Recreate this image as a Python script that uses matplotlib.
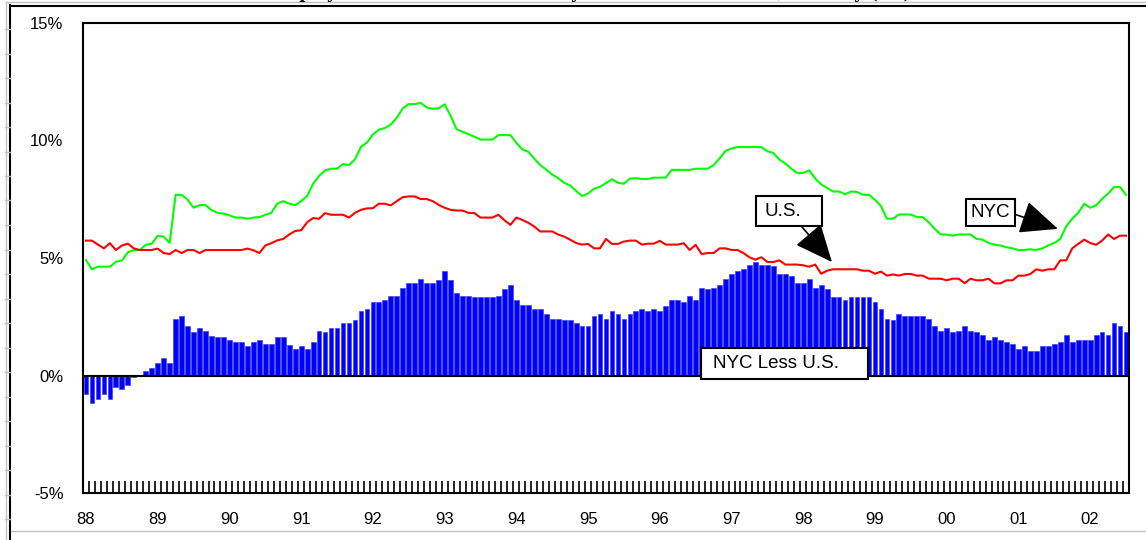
import numpy as np
import matplotlib.pyplot as plt
from matplotlib.patches import Rectangle
from matplotlib.lines import Line2D

plt.rcParams['font.family'] = ['Liberation Sans', 'DejaVu Sans']

# monthly, Jan 1988 - Jul 2002 (percent)
nyc = [4.91, 4.52, 4.63, 4.63, 4.63, 4.84, 4.89, 5.24, 5.34, 5.34, 5.56, 5.61,
       5.94, 5.91, 5.64, 7.69, 7.69, 7.48, 7.14, 7.25, 7.25, 7.04, 6.92, 6.89,
       6.82, 6.72, 6.72, 6.67, 6.72, 6.74, 6.84, 6.92, 7.31, 7.42, 7.31, 7.25,
       7.42, 7.64, 8.16, 8.49, 8.73, 8.80, 8.80, 9.00, 8.95, 9.20, 9.73, 9.91,
       10.26, 10.46, 10.53, 10.68, 10.97, 11.37, 11.55, 11.55, 11.60, 11.41, 11.35, 11.37,
       11.54, 11.05, 10.48, 10.37, 10.27, 10.16, 10.04, 10.04, 10.04, 10.23, 10.23, 10.23,
       9.90, 9.62, 9.52, 9.23, 8.95, 8.76, 8.55, 8.40, 8.20, 8.09, 7.85, 7.64,
       7.74, 7.95, 8.03, 8.19, 8.35, 8.20, 8.16, 8.38, 8.40, 8.36, 8.36, 8.42,
       8.42, 8.42, 8.75, 8.75, 8.75, 8.75, 8.80, 8.80, 8.80, 8.95, 9.23, 9.56,
       9.66, 9.72, 9.72, 9.72, 9.72, 9.72, 9.54, 9.47, 9.19, 9.02, 8.80, 8.62,
       8.62, 8.73, 8.38, 8.13, 7.98, 7.83, 7.83, 7.71, 7.83, 7.81, 7.69, 7.69,
       7.48, 7.21, 6.67, 6.67, 6.85, 6.85, 6.85, 6.74, 6.74, 6.52, 6.24, 6.00,
       6.00, 5.95, 6.00, 6.00, 6.00, 5.81, 5.78, 5.64, 5.57, 5.53, 5.46, 5.41,
       5.34, 5.34, 5.37, 5.34, 5.41, 5.54, 5.64, 5.81, 6.35, 6.67, 6.92, 7.31,
       7.14, 7.24, 7.52, 7.74, 8.02, 8.02, 7.69]

us = [5.74, 5.74, 5.57, 5.41, 5.63, 5.34, 5.53, 5.61, 5.41, 5.34, 5.34, 5.34,
      5.40, 5.21, 5.17, 5.34, 5.21, 5.34, 5.34, 5.21, 5.34, 5.34, 5.34, 5.34,
      5.34, 5.34, 5.34, 5.40, 5.33, 5.21, 5.53, 5.63, 5.75, 5.81, 6.00, 6.15,
      6.18, 6.52, 6.70, 6.67, 6.91, 6.84, 6.84, 6.84, 6.72, 6.92, 7.05, 7.11,
      7.12, 7.31, 7.31, 7.24, 7.42, 7.59, 7.62, 7.62, 7.51, 7.51, 7.42, 7.26,
      7.14, 7.05, 7.02, 7.02, 6.92, 6.91, 6.72, 6.72, 6.72, 6.84, 6.61, 6.41,
      6.72, 6.62, 6.50, 6.34, 6.13, 6.13, 6.13, 6.00, 5.91, 5.78, 5.64, 5.57,
      5.60, 5.41, 5.41, 5.81, 5.60, 5.60, 5.70, 5.74, 5.74, 5.57, 5.61, 5.61,
      5.73, 5.57, 5.57, 5.57, 5.63, 5.34, 5.56, 5.17, 5.21, 5.21, 5.41, 5.41,
      5.34, 5.34, 5.21, 5.03, 4.93, 5.03, 4.83, 4.83, 4.90, 4.72, 4.72, 4.72,
      4.69, 4.63, 4.72, 4.33, 4.46, 4.52, 4.52, 4.52, 4.52, 4.52, 4.46, 4.46,
      4.33, 4.42, 4.25, 4.30, 4.25, 4.32, 4.32, 4.25, 4.25, 4.12, 4.12, 4.12,
      4.05, 4.12, 4.12, 3.93, 4.12, 4.05, 4.05, 4.12, 3.92, 3.92, 4.05, 4.05,
      4.25, 4.25, 4.32, 4.52, 4.46, 4.52, 4.52, 4.90, 4.90, 5.41, 5.60, 5.78,
      5.64, 5.56, 5.74, 6.00, 5.81, 5.95, 5.95]

gap = [-0.80, -1.17, -1.00, -0.80, -1.00, -0.47, -0.58, -0.40, -0.08, 0.00, 0.20, 0.34,
       0.53, 0.73, 0.53, 2.42, 2.55, 2.09, 1.84, 2.04, 1.89, 1.70, 1.65, 1.65,
       1.51, 1.44, 1.44, 1.24, 1.44, 1.51, 1.32, 1.32, 1.65, 1.65, 1.30, 1.13,
       1.27, 1.13, 1.44, 1.91, 1.84, 2.04, 2.04, 2.24, 2.24, 2.35, 2.75, 2.83,
       3.13, 3.13, 3.20, 3.39, 3.39, 3.73, 3.93, 3.93, 4.12, 3.93, 3.93, 4.05,
       4.46, 4.05, 3.53, 3.39, 3.39, 3.33, 3.33, 3.33, 3.33, 3.39, 3.66, 3.85,
       3.20, 3.00, 3.00, 2.82, 2.82, 2.60, 2.42, 2.42, 2.35, 2.35, 2.22, 2.09,
       2.09, 2.55, 2.62, 2.42, 2.75, 2.62, 2.42, 2.62, 2.75, 2.82, 2.75, 2.82,
       2.75, 2.95, 3.20, 3.20, 3.13, 3.39, 3.20, 3.73, 3.66, 3.73, 3.85, 4.12,
       4.30, 4.46, 4.52, 4.72, 4.83, 4.72, 4.72, 4.64, 4.30, 4.30, 4.23, 3.93,
       3.93, 4.12, 3.73, 3.85, 3.66, 3.33, 3.33, 3.20, 3.33, 3.33, 3.33, 3.33,
       3.13, 2.82, 2.42, 2.35, 2.62, 2.55, 2.55, 2.55, 2.55, 2.42, 2.09, 1.91,
       2.04, 1.84, 1.91, 2.09, 1.91, 1.84, 1.71, 1.51, 1.64, 1.51, 1.44, 1.32,
       1.13, 1.24, 1.05, 1.05, 1.24, 1.24, 1.32, 1.44, 1.71, 1.44, 1.51, 1.51,
       1.51, 1.71, 1.84, 1.71, 2.24, 2.09, 1.84]

year_labels = ['88', '89', '90', '91', '92', '93', '94', '95',
               '96', '97', '98', '99', '00', '01', '02']
yticks = [-5, 0, 5, 10, 15]

W, H = 1146, 540
fig = plt.figure(figsize=(W / 100, H / 100), dpi=100)
ax = fig.add_axes([83 / W, 1 - 493 / H, (1129 - 83) / W, (493 - 23) / H])

x = np.arange(len(nyc))
ax.bar(x, gap, width=0.8, color='#0000ff', edgecolor='#3030ff', linewidth=0.4, zorder=2)
ax.axhline(0, color='black', lw=1.5, zorder=2.5)
ax.plot(x, nyc, color='#00ff00', lw=1.5, zorder=3)
ax.plot(x, us, color='#ff0000', lw=1.5, zorder=3)

ax.set_xlim(-0.5, len(x) - 0.5)
ax.set_ylim(-5, 15)
ax.set_yticks(yticks, [f'{v}%' for v in yticks])
ax.tick_params(axis='y', length=0, pad=14, labelsize=12)
ax.set_xticks(x[::12], year_labels)
ax.set_xticks(np.arange(len(x) + 1) - 0.5, minor=True)
ax.tick_params(axis='x', which='major', length=0, pad=14, labelsize=12)
ax.tick_params(axis='x', which='minor', direction='in', length=9, width=1.2, color='black')
for s in ax.spines.values():
    s.set_linewidth(1.5)


def fx(px):
    return px / W


def fy(py):
    return 1 - py / H


# outer sheet frame
fig.add_artist(Line2D([fx(10), fx(10)], [0, fy(5)], color='black', lw=1.5))
fig.add_artist(Line2D([fx(10), 1], [fy(6), fy(6)], color='black', lw=1.5))
fig.add_artist(Line2D([fx(6), 1], [fy(2), fy(2)], color='#c0c0c0', lw=1))
fig.add_artist(Line2D([fx(6), fx(6)], [0, fy(2)], color='#c0c0c0', lw=1))
fig.add_artist(Line2D([fx(11), 1], [fy(531), fy(531)], color='#c0c0c0', lw=1))
for ty in np.arange(29, 540, 24.5):
    fig.add_artist(Line2D([fx(5), fx(10)], [fy(ty), fy(ty)], color='#c0c0c0', lw=1))

# title, mostly cut off at the top edge as in the source
fig.text(0.505, fy(-3), 'Unemployment Rates: New York City and the United States, Monthly (SA)',
         family='Liberation Serif', fontweight='bold', fontsize=15, ha='center', va='baseline')

# label boxes
boxes = [((756, 196, 822, 226), 'U.S.', 765),
         ((966, 199, 1015, 226), 'NYC', 970),
         ((701, 348, 868, 379), 'NYC Less U.S.', 713)]
for (x0, y0, x1, y1), label, tx in boxes:
    fig.add_artist(Rectangle((fx(x0), fy(y1)), fx(x1 - x0), (y1 - y0) / H,
                             transform=fig.transFigure, facecolor='white',
                             edgecolor='black', lw=1.5, zorder=5))
    fig.text(fx(tx), fy((y0 + y1) / 2), label, fontsize=13.5, ha='left', va='center', zorder=6)

arrow = dict(arrowstyle='-|>,head_length=1.7,head_width=0.75', color='black',
             lw=1.2, shrinkA=0, shrinkB=0, mutation_scale=14)
ax.annotate('', xy=(124.8, 4.83), xycoords='data',
            xytext=(fx(802), fy(227)), textcoords='figure fraction', arrowprops=arrow)
ax.annotate('', xy=(162.6, 6.24), xycoords='data',
            xytext=(fx(1014), fy(214)), textcoords='figure fraction', arrowprops=arrow)

fig.savefig('out.png', dpi=100)
